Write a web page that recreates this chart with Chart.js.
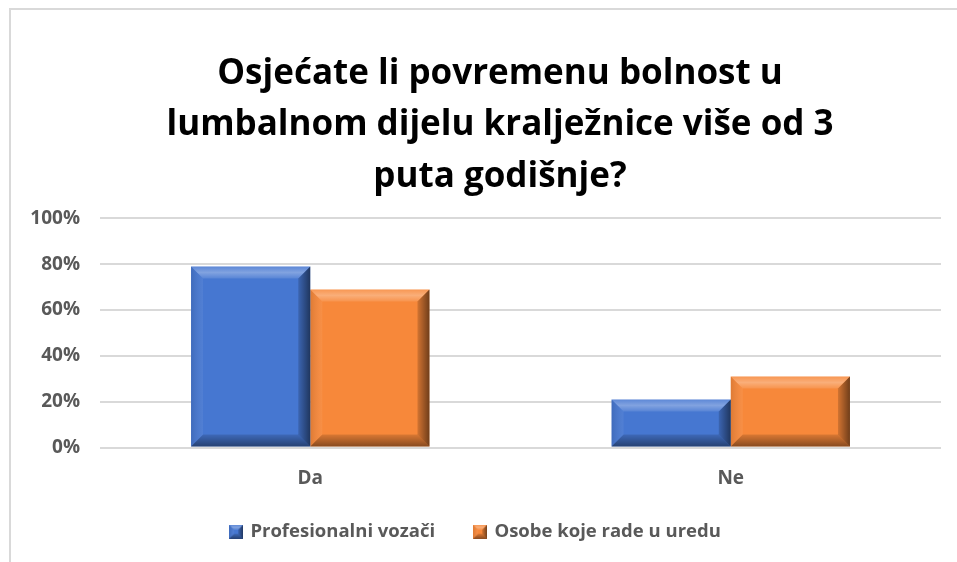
<!DOCTYPE html>
<html>
<head>
<meta charset="utf-8">
<script src="https://cdn.jsdelivr.net/npm/chart.js@4"></script>
<style>
  html, body { margin: 0; padding: 0; background: #fff; overflow: hidden; }
  #wrap { position: relative; width: 957px; height: 562px; overflow: hidden; }
  #chart { position: absolute; left: 0; top: 0; }
  #frame {
    position: absolute; left: 9px; top: 8px; width: 2000px; height: 2000px;
    border-left: 2px solid #d9d9d9; border-top: 2px solid #d9d9d9; pointer-events: none;
  }
</style>
</head>
<body>
<div id="wrap">
  <canvas id="chart" width="1000" height="600"></canvas>
  <div id="frame"></div>
</div>
<script>
// survey answers, share of respondents in %
const categories = ['Da', 'Ne'];
const seriesNames = ['Profesionalni vozači', 'Osobe koje rade u uredu'];
const vozaci = [79, 21];
const uredu = [69, 31];
const yTickStep = 20;
const yMax = 100;

const blue = '#4677d1';
const orange = '#f7883a';
const labelGrey = '#595959';
const fontFamily = '"Open Sans", "Noto Sans", sans-serif';

// draws the four bevel faces of a rectangle
function bevel(ctx, l, t, r, b, size) {
    const s = Math.min(size, (r - l) / 2, (b - t) / 2);
    const face = (pts, fill) => {
        ctx.beginPath();
        ctx.moveTo(pts[0][0], pts[0][1]);
        for (let i = 1; i < pts.length; i++) ctx.lineTo(pts[i][0], pts[i][1]);
        ctx.closePath();
        ctx.fillStyle = fill;
        ctx.fill();
    };
    let g = ctx.createLinearGradient(0, t, 0, t + s);
    g.addColorStop(0, 'rgba(255,255,255,0.12)');
    g.addColorStop(0.5, 'rgba(255,255,255,0.32)');
    g.addColorStop(1, 'rgba(255,255,255,0.10)');
    face([[l, t], [r, t], [r - s, t + s], [l + s, t + s]], g);

    g = ctx.createLinearGradient(l, 0, l + s, 0);
    g.addColorStop(0, 'rgba(0,0,0,0.10)');
    g.addColorStop(1, 'rgba(255,255,255,0.06)');
    face([[l, t], [l + s, t + s], [l + s, b - s], [l, b]], g);

    g = ctx.createLinearGradient(r - s, 0, r, 0);
    g.addColorStop(0, 'rgba(0,0,0,0.15)');
    g.addColorStop(1, 'rgba(0,0,0,0.55)');
    face([[r, t], [r, b], [r - s, b - s], [r - s, t + s]], g);

    g = ctx.createLinearGradient(0, b - s, 0, b);
    g.addColorStop(0, 'rgba(0,0,0,0.12)');
    g.addColorStop(1, 'rgba(0,0,0,0.45)');
    face([[l, b], [r, b], [r - s, b - s], [l + s, b - s]], g);
}

// small bevelled square used as legend marker
function legendBox(color) {
    const c = document.createElement('canvas');
    c.width = 14; c.height = 14;
    const ctx = c.getContext('2d');
    ctx.fillStyle = color;
    ctx.fillRect(0, 0, 14, 14);
    bevel(ctx, 0, 0, 14, 14, 5);
    return c;
}

const bevelPlugin = {
    id: 'bevelBars',
    afterDatasetsDraw(chart) {
        const ctx = chart.ctx;
        ctx.save();
        chart.data.datasets.forEach((ds, i) => {
            const meta = chart.getDatasetMeta(i);
            meta.data.forEach(bar => {
                const p = bar.getProps(['x', 'y', 'base', 'width'], true);
                const l = p.x - p.width / 2, r = p.x + p.width / 2;
                const t = Math.min(p.y, p.base), b = Math.max(p.y, p.base);
                bevel(ctx, l, t, r, b, 12);
            });
        });
        ctx.restore();
    }
};

// legend sits a bit left of the title's centre line and close under the axis labels
const legendShift = {
    id: 'legendShift',
    afterLayout(chart) {
        const lg = chart.legend;
        lg.left -= 24;
        lg.right -= 24;
        lg.top -= 13;
        lg.bottom -= 13;
    }
};

new Chart(document.getElementById('chart'), {
    type: 'bar',
    data: {
        labels: categories,
        datasets: [{
            label: seriesNames[0],
            data: vozaci,
            backgroundColor: blue,
            pointStyle: legendBox(blue)
        }, {
            label: seriesNames[1],
            data: uredu,
            backgroundColor: orange,
            pointStyle: legendBox(orange)
        }]
    },
    options: {
        responsive: false,
        animation: false,
        layout: { padding: { left: 0, right: 0, top: 0, bottom: 36 } },
        datasets: { bar: { categoryPercentage: 0.567, barPercentage: 1 } },
        plugins: {
            tooltip: { enabled: false },
            title: {
                display: true,
                text: ['Osjećate li povremenu bolnost u', 'lumbalnom dijelu kralježnice više od 3', 'puta godišnje?'],
                color: '#000',
                font: { family: fontFamily, size: 35, weight: 'bold', lineHeight: 1.47 },
                padding: { top: 48, bottom: 16 }
            },
            legend: {
                position: 'bottom',
                labels: {
                    usePointStyle: true,
                    pointStyleWidth: 10,
                    color: labelGrey,
                    font: { family: fontFamily, size: 18.5, weight: 'bold' },
                    padding: 40
                }
            }
        },
        scales: {
            x: {
                afterFit(scale) { scale.height = 48; },
                grid: { display: false },
                border: { display: false },
                ticks: { color: labelGrey, font: { family: fontFamily, size: 19, weight: 'bold' }, padding: 12 }
            },
            y: {
                min: 0,
                max: yMax,
                afterFit(scale) { scale.width = 100; },
                grid: { color: '#d9d9d9', lineWidth: 2, drawTicks: false },
                border: { display: false },
                ticks: {
                    stepSize: yTickStep,
                    padding: 20,
                    color: labelGrey,
                    font: { family: fontFamily, size: 19, weight: 'bold' },
                    callback: v => v + '%'
                }
            },
            // empty right-hand axis, only reserves the margin right of the plot
            yRight: {
                position: 'right',
                afterFit(scale) { scale.width = 59; },
                grid: { display: false },
                border: { display: false },
                ticks: { display: false }
            }
        }
    },
    plugins: [bevelPlugin, legendShift]
});
</script>
</body>
</html>
